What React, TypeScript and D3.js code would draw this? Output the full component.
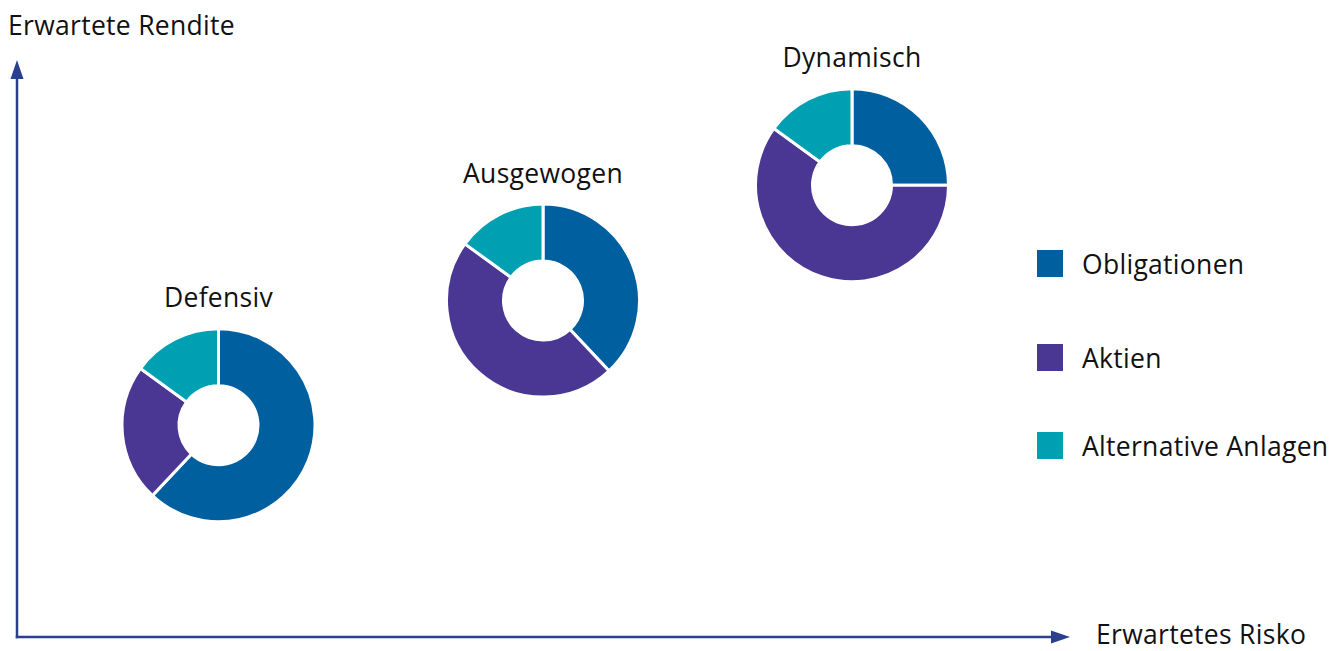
import React, { useEffect, useRef } from "react";
import * as d3 from "d3";

// ---------------- data ----------------
const portfolios = ["Defensiv", "Ausgewogen", "Dynamisch"];
const riskValues = [20.15, 52.6, 83.5]; // erwartetes Risiko (relative scale)
const returnValues = [36.7, 58.3, 78.3]; // erwartete Rendite (relative scale)
const assetClasses = ["Obligationen", "Aktien", "Alternative Anlagen"];
const obligationen = [62, 38, 25];
const aktien = [23, 47, 60];
const alternative = [15, 15, 15];
const colors = ["#00609f", "#4a3794", "#00a0b3"];

const W = 1331;
const H = 651;
const AXIS = "#2b3f8f";
const FONT = "'Open Sans', sans-serif";
const FS = 26.5;
const LS = 0.3;

export default function App() {
  const svgRef = useRef<SVGSVGElement>(null);

  useEffect(() => {
    const svg = d3.select(svgRef.current);
    svg.selectAll("*").remove();

    const x0 = 17;
    const y0 = 637;

    const x = d3.scaleLinear().domain([0, 100]).range([x0, 1017]);
    const y = d3.scaleLinear().domain([0, 100]).range([y0, 60]);

    const label = (tx: number, ty: number, txt: string, anchor = "start") =>
      svg.append("text")
        .attr("x", tx).attr("y", ty)
        .attr("text-anchor", anchor)
        .attr("font-family", FONT).attr("font-size", FS)
        .attr("letter-spacing", LS)
        .attr("fill", "#111")
        .text(txt);

    // ---------------- axes ----------------
    svg.append("line")
      .attr("x1", x0).attr("x2", x0)
      .attr("y1", y0 + 1.25).attr("y2", 75)
      .attr("stroke", AXIS).attr("stroke-width", 2.5);
    svg.append("path")
      .attr("d", `M${x0},60 L${x0 - 6.5},79 L${x0 + 6.5},79 Z`)
      .attr("fill", AXIS);

    svg.append("line")
      .attr("x1", x0 - 1.25).attr("x2", 1055)
      .attr("y1", y0).attr("y2", y0)
      .attr("stroke", AXIS).attr("stroke-width", 2.5);
    svg.append("path")
      .attr("d", `M1070,${y0} L1051,${y0 - 6.5} L1051,${y0 + 6.5} Z`)
      .attr("fill", AXIS);

    label(8, 35, "Erwartete Rendite");
    label(1096, 644, "Erwartetes Risko");

    // ---------------- donuts ----------------
    const pie = d3.pie<number>().sort(null).value(d => d);
    const arc = d3.arc<d3.PieArcDatum<number>>()
      .innerRadius(39.5)
      .outerRadius(96.5);

    portfolios.forEach((name, i) => {
      const cx = x(riskValues[i]);
      const cy = y(returnValues[i]);
      const g = svg.append("g").attr("transform", `translate(${cx},${cy})`);
      const vals = [obligationen[i], aktien[i], alternative[i]];
      g.selectAll("path")
        .data(pie(vals))
        .join("path")
        .attr("d", arc)
        .attr("fill", (_, j) => colors[j])
        .attr("stroke", "#fff")
        .attr("stroke-width", 3);

      label(cx, cy - 118, name, "middle");
    });

    // ---------------- legend ----------------
    const legendY = [250, 344, 432];
    assetClasses.forEach((name, i) => {
      svg.append("rect")
        .attr("x", 1037).attr("y", legendY[i])
        .attr("width", 26).attr("height", 27)
        .attr("fill", colors[i]);
      label(1082, legendY[i] + 24, name);
    });
  }, []);

  return (
    <svg
      ref={svgRef}
      width={W}
      height={H}
      style={{ position: "absolute", left: 0, top: 0, background: "#fff" }}
    />
  );
}
